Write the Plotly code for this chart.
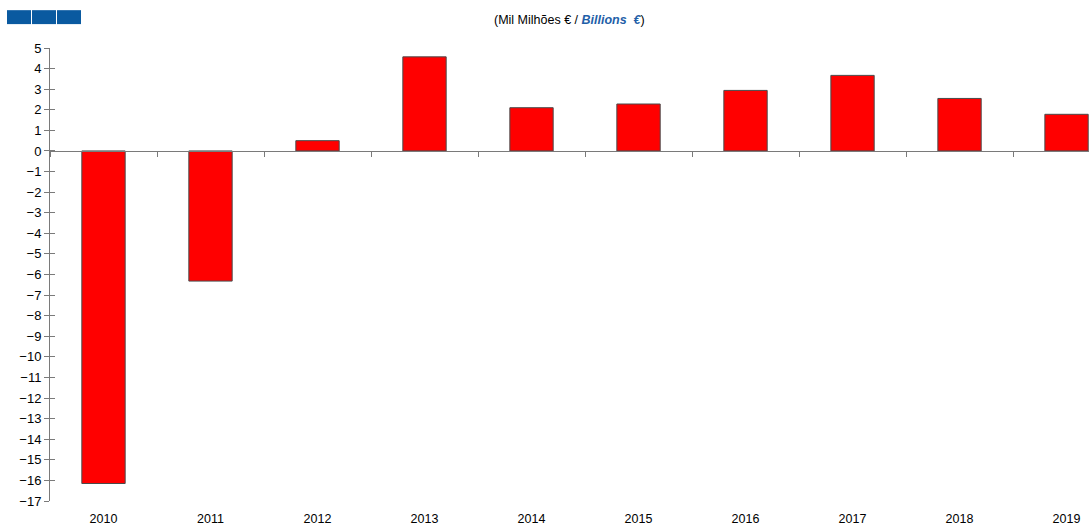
import plotly.graph_objects as go

years = ["2010", "2011", "2012", "2013", "2014", "2015", "2016", "2017", "2018", "2019"]
values = [-16.15, -6.32, 0.5, 4.57, 2.1, 2.28, 2.94, 3.67, 2.55, 1.78]
y_ticks = list(range(-17, 6))

AXIS = "#7a7a7a"
FONT = "Liberation Sans, Arial, sans-serif"
YMIN, YMAX = -17, 5
XRANGE = [-0.5, 9.21]

fig = go.Figure()
fig.add_bar(
    x=years,
    y=values,
    width=0.405,
    marker=dict(color="#ff0000", line=dict(color="#4a4a4a", width=1)),
    hoverinfo="x+y",
)
# invisible copy so the overlay axes (zero line + crossing ticks) get drawn
fig.add_bar(
    x=years,
    y=values,
    width=0.405,
    xaxis="x2",
    yaxis="y2",
    marker=dict(opacity=0),
    hoverinfo="skip",
)

fig.update_layout(
    width=1089,
    height=526,
    margin=dict(l=50, r=0, t=48, b=23),
    paper_bgcolor="white",
    plot_bgcolor="white",
    showlegend=False,
    font=dict(family=FONT, size=13, color="black"),
    xaxis=dict(
        type="category",
        range=XRANGE,
        showgrid=False,
        zeroline=False,
        showline=False,
        ticks="outside",
        ticklen=6,
        tickcolor="rgba(0,0,0,0)",
        tickfont=dict(size=12.5),
    ),
    xaxis2=dict(
        type="category",
        overlaying="x",
        anchor="free",
        position=(0 - YMIN) / (YMAX - YMIN),
        range=XRANGE,
        showgrid=False,
        zeroline=False,
        showline=True,
        linecolor=AXIS,
        linewidth=1,
        ticks="outside",
        tickson="boundaries",
        ticklen=5,
        tickcolor=AXIS,
        showticklabels=False,
    ),
    yaxis=dict(
        range=[YMIN, YMAX],
        tickvals=y_ticks,
        showgrid=False,
        zeroline=False,
        showline=True,
        linecolor=AXIS,
        linewidth=1,
        ticks="outside",
        ticklen=5,
        tickcolor=AXIS,
        tickfont=dict(size=13),
    ),
    yaxis2=dict(
        overlaying="y",
        side="left",
        range=[YMIN, YMAX],
        tickvals=y_ticks,
        showgrid=False,
        zeroline=False,
        showline=False,
        ticks="inside",
        ticklen=5,
        tickcolor=AXIS,
        showticklabels=False,
    ),
    annotations=[
        dict(
            x=0.5,
            y=1,
            xref="paper",
            yref="paper",
            yshift=28,
            yanchor="middle",
            text="(Mil Milhões € / <b><i><span style='color:#1f5fa8'>Billions  €</span></i></b>)",
            showarrow=False,
            font=dict(size=12.5, color="black"),
        )
    ],
)

# logo blocks top-left
for i in range(3):
    fig.add_shape(
        type="rect",
        xref="paper",
        yref="paper",
        x0=(7 + 25 * i - 50) / 1039,
        x1=(7 + 25 * i + 24 - 50) / 1039,
        y0=1 + (48 - 24) / 455,
        y1=1 + (48 - 10) / 455,
        fillcolor="#0a5aa0",
        line=dict(width=0),
        layer="above",
    )

fig.write_html(
    "out.html",
    config={"displayModeBar": False},
    post_script="document.body.style.margin='0';",
)
